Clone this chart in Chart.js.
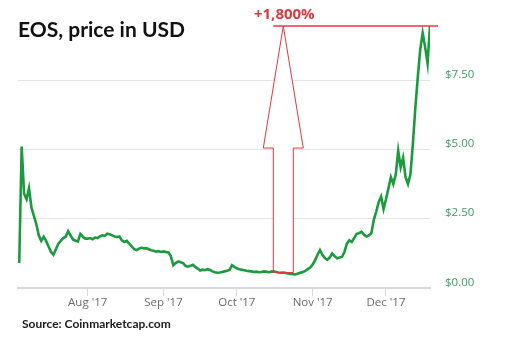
<!DOCTYPE html>
<html>
<head>
<meta charset="utf-8">
<script src="https://cdn.jsdelivr.net/npm/chart.js@4.4.0/dist/chart.umd.min.js"></script>
<style>
  html, body { margin: 0; padding: 0; background: #fff; }
  #wrap { position: relative; width: 515px; height: 341px; }
  #chart { position: absolute; left: 0; top: 0; }
  #title { position: absolute; left: 18px; top: 16px; font: bold 21px Lato, sans-serif; color: #111; }
  #source { position: absolute; left: 22px; top: 316px; font: bold 12px Lato, sans-serif; color: #1a1a1a; }
</style>
</head>
<body>
<div id="wrap">
  <canvas id="chart" width="515" height="341"></canvas>
  <div id="title">EOS, price in USD</div>
  <div id="source">Source: Coinmarketcap.com</div>
</div>
<script>
// day numbers count from Jul 1 2017 (day 0)
const firstDay = 3;
const prices = [
  0.9, 5.1, 3.4, 3.2, 3.6, 2.9, 2.6, 2.3, 1.9, 1.7,
  1.85, 1.7, 1.5, 1.3, 1.2, 1.4, 1.6, 1.7, 1.8, 1.85,
  2.05, 1.9, 1.75, 1.7, 1.68, 1.95, 1.85, 1.78, 1.78, 1.8,
  1.76, 1.82, 1.8, 1.86, 1.9, 1.88, 1.96, 1.94, 1.9, 1.86,
  1.84, 1.86, 1.72, 1.66, 1.7, 1.6, 1.5, 1.4, 1.37, 1.42,
  1.45, 1.43, 1.44, 1.4, 1.36, 1.34, 1.31, 1.33, 1.3, 1.32,
  1.3, 1.28, 1.15, 0.82, 0.9, 0.96, 0.93, 0.9, 0.8, 0.77,
  0.8, 0.84, 0.76, 0.7, 0.63, 0.66, 0.64, 0.68, 0.65, 0.6,
  0.57, 0.55, 0.56, 0.58, 0.6, 0.62, 0.65, 0.82, 0.76, 0.71,
  0.68, 0.66, 0.64, 0.62, 0.61, 0.6, 0.58, 0.59, 0.57, 0.58,
  0.6, 0.59, 0.57, 0.59, 0.6, 0.58, 0.56, 0.55, 0.56, 0.54,
  0.52, 0.51, 0.5, 0.49, 0.52, 0.55, 0.58, 0.62, 0.68, 0.74,
  0.85, 1.0, 1.2, 1.37, 1.2, 1.08, 1.02, 1.1, 1.25, 1.15,
  1.07, 1.1, 1.12, 1.3, 1.6, 1.72, 1.66, 1.8, 1.95, 1.98,
  2.03, 1.92, 1.86, 1.9, 1.97, 2.45, 2.75, 3.1, 3.3, 2.85,
  3.2, 3.6, 4.0, 3.75, 4.1, 4.95, 4.35, 4.7, 4.0, 3.75,
  4.1, 5.2, 6.5, 7.6, 8.6, 9.2, 8.7, 8.1, 9.45
];
const tickDays = [31, 62, 92, 123, 153];
const tickLabels = ["Aug '17", "Sep '17", "Oct '17", "Nov '17", "Dec '17"];
const yTicks = [0, 2.5, 5, 7.5];
const arrowDay = 111;
const gainLabel = "+1,800%";

window.onload = function() {
    const ctx = document.getElementById("chart").getContext("2d");
    const red = '#e2383f';

    // arrow from the low at arrowDay up to the peak of the series
    function arrowGeom(chart) {
        const xs = chart.scales.x, ys = chart.scales.y;
        const cx = xs.getPixelForValue(arrowDay);
        const top = ys.getPixelForValue(Math.max(...prices));
        const bottom = ys.getPixelForValue(prices[arrowDay - firstDay]);
        return { cx, top, bottom, head: top + 122 };
    }
    function arrowPath(c, g) {
        c.beginPath();
        c.moveTo(g.cx, g.top);
        c.lineTo(g.cx + 20, g.head);
        c.lineTo(g.cx + 10, g.head);
        c.lineTo(g.cx + 10, g.bottom);
        c.lineTo(g.cx - 10, g.bottom);
        c.lineTo(g.cx - 10, g.head);
        c.lineTo(g.cx - 20, g.head);
        c.closePath();
    }
    const arrowPlugin = {
        id: 'arrow',
        beforeDatasetsDraw(chart) {
            const c = chart.ctx, g = arrowGeom(chart);
            c.save();
            arrowPath(c, g);
            c.fillStyle = '#fff';
            c.fill();
            c.restore();
        },
        afterDatasetsDraw(chart) {
            const c = chart.ctx, g = arrowGeom(chart);
            c.save();
            arrowPath(c, g);
            c.strokeStyle = red;
            c.lineWidth = 1;
            c.stroke();
            // peak line
            c.beginPath();
            c.moveTo(g.cx - 10, g.top);
            c.lineTo(chart.chartArea.right + 8, g.top);
            c.lineWidth = 1.5;
            c.stroke();
            c.fillStyle = red;
            c.font = "bold 15px 'Open Sans', sans-serif";
            c.textAlign = 'center';
            c.textBaseline = 'middle';
            c.fillText(gainLabel, g.cx + 1, g.top - 11);
            c.restore();
        }
    };

    new Chart(ctx, {
        type: 'line',
        data: {
            datasets: [{
                data: prices.map((p, i) => ({ x: firstDay + i, y: p })),
                borderColor: '#1b9a3e',
                borderWidth: 2.6,
                pointRadius: 0,
                tension: 0,
                fill: false
            }]
        },
        options: {
            responsive: false,
            animation: false,
            layout: { padding: { left: 18, top: 21, right: 0, bottom: 0 } },
            plugins: { legend: { display: false }, tooltip: { enabled: false } },
            scales: {
                x: {
                    type: 'linear',
                    min: 2.5,
                    max: 171,
                    afterBuildTicks: s => { s.ticks = tickDays.map(v => ({ value: v })); },
                    afterFit: s => { s.height = 53; },
                    grid: { drawOnChartArea: false, drawTicks: true, tickLength: 8, tickColor: '#d3d8de' },
                    border: { display: true, color: '#d3d8de', width: 2 },
                    ticks: {
                        padding: 0,
                        maxRotation: 0,
                        color: '#6a6a6a',
                        font: { family: "'Open Sans', sans-serif", size: 11.5 },
                        callback: v => tickLabels[tickDays.indexOf(v)]
                    }
                },
                y: {
                    position: 'right',
                    min: 0,
                    max: 9.6,
                    afterBuildTicks: s => { s.ticks = yTicks.map(v => ({ value: v })); },
                    afterFit: s => { s.width = 85; },
                    grid: { color: '#e4e4e4', drawTicks: false },
                    border: { display: false },
                    ticks: {
                        padding: 15,
                        labelOffset: -5.5,
                        color: '#3f9a60',
                        font: { family: "'Open Sans', sans-serif", size: 11.5 },
                        callback: v => '$' + v.toFixed(2)
                    }
                }
            }
        },
        plugins: [arrowPlugin]
    });
};
</script>
</body>
</html>
